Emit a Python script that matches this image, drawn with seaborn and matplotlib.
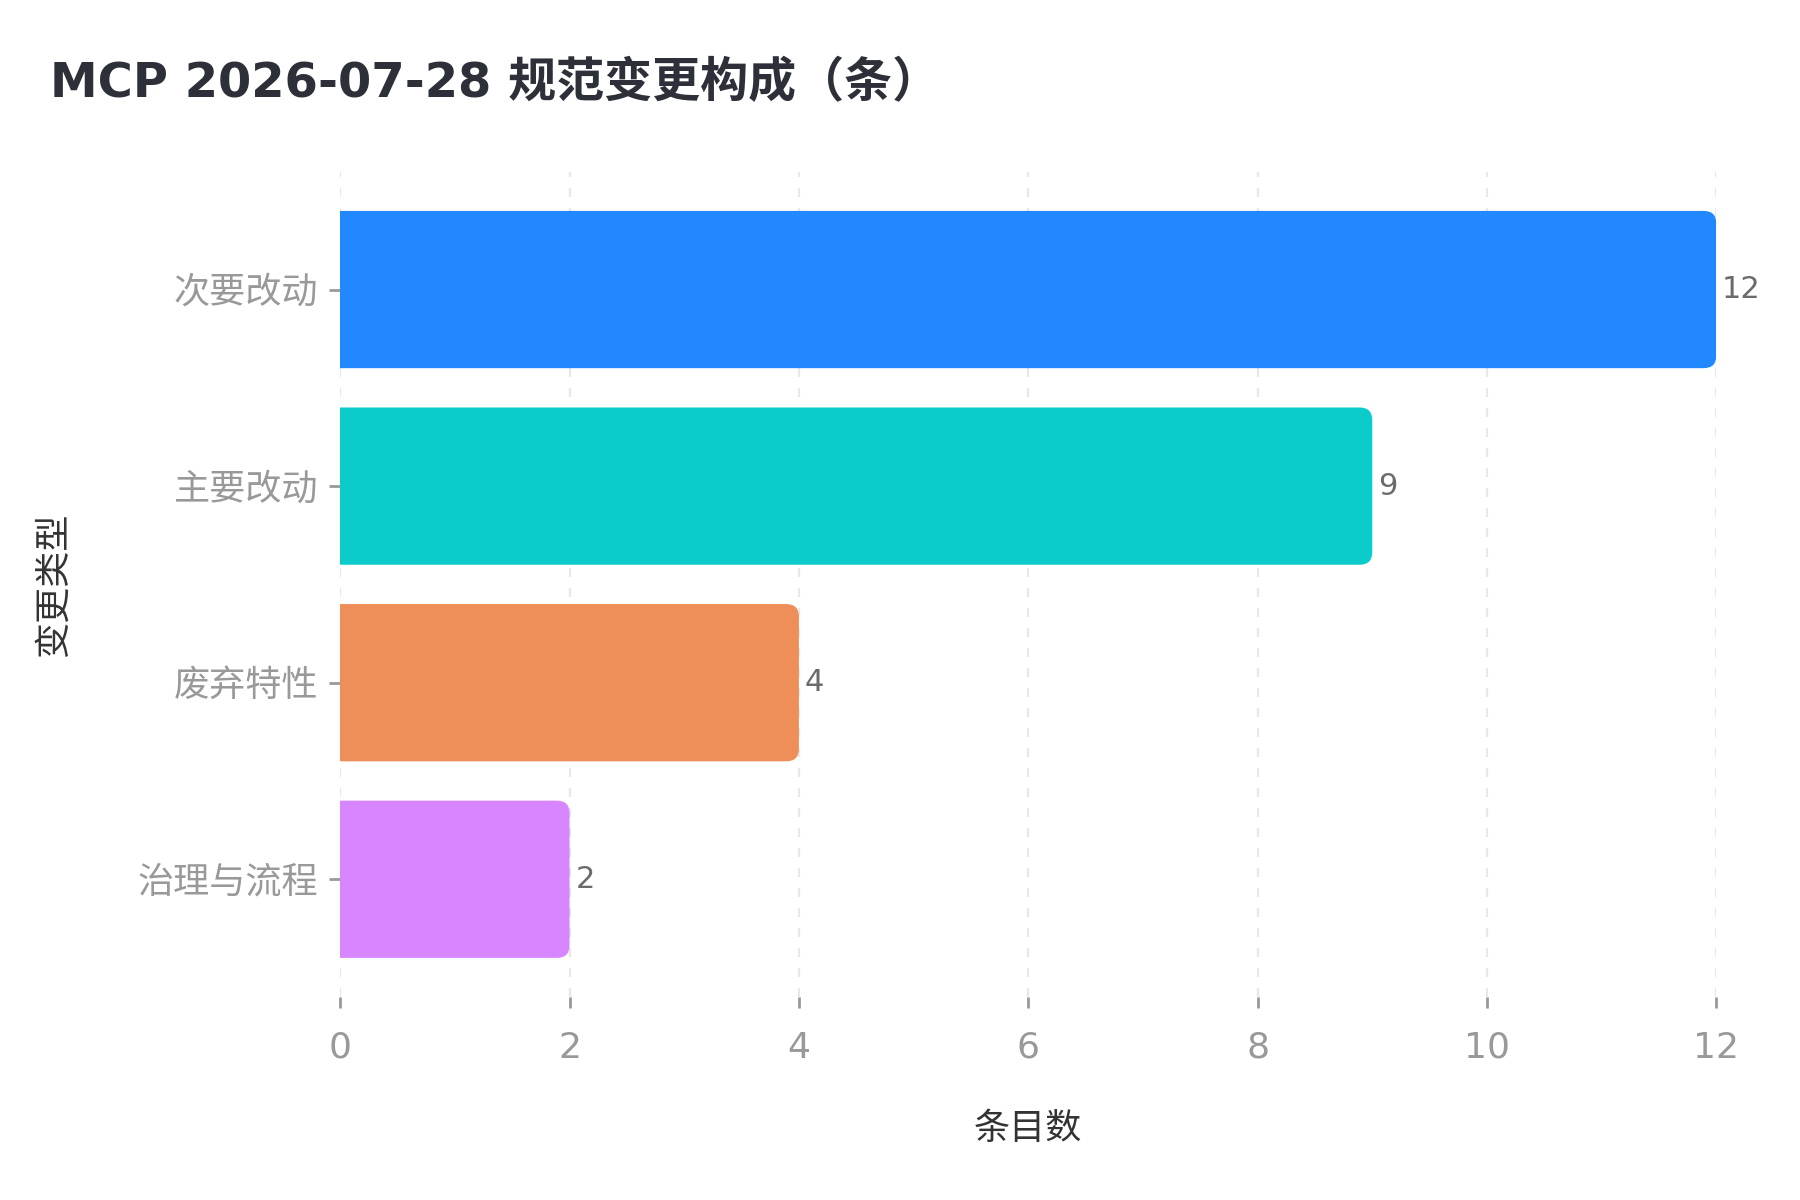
import matplotlib
matplotlib.use('Agg')
import pandas as pd
import matplotlib.pyplot as plt
from matplotlib.patches import FancyBboxPatch
import seaborn as sns

# ---------------- data ----------------
categories = ['次要改动', '主要改动', '废弃特性', '治理与流程']
counts = [12, 9, 4, 2]
bar_colors = ['#2288ff', '#0ccccb', '#ee8e58', '#d886ff']
x_ticks = [0, 2, 4, 6, 8, 10, 12]

df = pd.DataFrame({'类型': categories, '条目数': counts})

# ---------------- style ----------------
sns.set_theme(style='white')
plt.rcParams['font.family'] = ['DejaVu Sans', 'Noto Sans CJK SC']

fig = plt.figure(figsize=(9, 6), dpi=200)
ax = fig.add_axes([0.189, 0.169, 0.7645, 0.688])

sns.barplot(data=df, x='条目数', y='类型', hue='类型', palette=bar_colors,
            order=categories, legend=False, width=0.8, ax=ax, saturation=1)

# swap the flat bars for rounded ones (left end pushed past the axis, so clipped square)
for p in list(ax.patches):
    x0, y0 = p.get_x(), p.get_y()
    w, h = p.get_width(), p.get_height()
    fc = p.get_facecolor()
    p.remove()
    rb = FancyBboxPatch((x0 - 0.3, y0), w + 0.3, h,
                        boxstyle='round,pad=0,rounding_size=0.11',
                        mutation_aspect=0.58, facecolor=fc, edgecolor='none',
                        zorder=2)
    ax.add_patch(rb)
    ax.text(x0 + w + 0.05, y0 + h / 2, f'{int(w)}', va='center', ha='left',
            fontsize=11, color='#6b6b6b')

ax.set_xlim(0, 12)
ax.set_ylim(3.6, -0.6)
ax.set_xticks(x_ticks)
ax.set_xticklabels([str(t) for t in x_ticks])

ax.set_axisbelow(True)
ax.grid(axis='x', color='#e8e8e8', linewidth=0.8, linestyle=(0, (4, 5)))
ax.grid(axis='y', visible=False)
sns.despine(ax=ax, left=True, bottom=True)

ax.tick_params(axis='x', colors='#999999', labelsize=13, length=4, width=1, pad=8,
               bottom=True)
ax.tick_params(axis='y', colors='#999999', labelsize=13, length=4, width=1, pad=4,
               left=True)
for lab in ax.get_xticklabels() + ax.get_yticklabels():
    lab.set_color('#999999')

ax.set_xlabel('条目数', fontsize=13, color='#333333', labelpad=17)
ax.set_ylabel('变更类型', fontsize=13, color='#333333', labelpad=24)

fig.text(0.028, 0.93, 'MCP 2026-07-28 规范变更构成（条）', fontsize=17.3,
         fontweight='bold', color='#2d3038', ha='left', va='center')

plt.savefig('out.png', dpi=200, facecolor='white')
